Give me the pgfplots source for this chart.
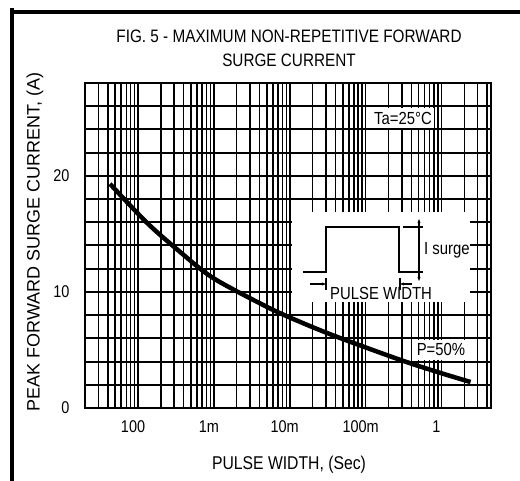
\documentclass[border=0pt]{standalone}
\usepackage{fontspec}
\setmainfont{Liberation Sans}[FakeStretch=0.85]
\newfontfamily\ylfont{Liberation Sans}
\usepackage{pgfplots}
\pgfplotsset{compat=1.18}
\usetikzlibrary{arrows.meta}

\begin{document}
\begin{tikzpicture}
\path[use as bounding box] (0pt,0pt) rectangle (520pt,481pt);

\begin{axis}[
  at={(85pt,73pt)}, anchor=south west,
  scale only axis, width=406pt, height=325pt,
  xmode=log, xmin=2e-5, xmax=4.5,
  ymin=0, ymax=28,
  xtick={1e-4,1e-3,1e-2,1e-1,1},
  xticklabels={100,1m,10m,100m,1},
  minor xtick={3e-5,4e-5,5e-5,6e-5,7e-5,8e-5,9e-5,
    2e-4,3e-4,4e-4,5e-4,6e-4,7e-4,8e-4,9e-4,
    2e-3,3e-3,4e-3,5e-3,6e-3,7e-3,8e-3,9e-3,
    2e-2,3e-2,4e-2,5e-2,6e-2,7e-2,8e-2,9e-2,
    0.2,0.3,0.4,0.5,0.6,0.7,0.8,0.9,2,3,4},
  ytick={0,10,20},
  minor ytick={2,4,6,8,12,14,16,18,22,24,26},
  grid=both,
  major grid style={line width=1.8pt, black},
  minor grid style={line width=1.5pt, black},
  every axis y grid/.append style={line width=2pt},
  major tick length=0pt, minor tick length=0pt,
  axis line style={line width=2.8pt},
  /pgf/number format/assume math mode=true,
  ticklabel style={font=\fontsize{17}{20}\selectfont},
  xticklabel style={yshift=-9pt, xshift=-5pt},
  yticklabel style={xshift=-12pt},
]
\addplot[black, line width=4.5pt, smooth] coordinates {
  (4.27e-5,19.31) (1.315e-4,15.95) (3.58e-4,13.45) (9.77e-4,11.2)
  (5.05e-3,8.7) (1.377e-2,7.41) (4.24e-2,6.12)
  (0.288,4.14) (0.97,3.02) (2.42,2.24)
};
\end{axis}

\begin{scope}[x=1pt, y=-1pt, shift={(0pt,481pt)}]
  % white areas over the grid
  \fill[white] (292,212) rectangle (470,302);
  \fill[white] (372,108) rectangle (434,128);
  \fill[white] (414,340) rectangle (477,360);
  % inset pulse sketch
  \draw[line width=1.5pt] (303,272) -- (326,272) -- (326,227) -- (399,227)
    -- (399,272) -- (423,272);
  \draw[line width=1.5pt] (403,227) -- (423,227);
  \draw[line width=1.4pt, {Stealth[length=4pt]}-{Stealth[length=4pt]}] (419,219) -- (419,281);
  \draw[line width=1.2pt] (326,278) -- (326,290);
  \draw[line width=1.2pt] (400,278) -- (400,290);
  \draw[line width=1.2pt, -{Stealth[length=4pt]}] (310,284) -- (326,284);
  \draw[line width=1.2pt, -{Stealth[length=4pt]}] (412,284) -- (400,284);
  \node[anchor=west, inner sep=0pt, font=\fontsize{17.5}{20}\selectfont] at (424,250) {I surge};
  \node[anchor=west, inner sep=0pt, font=\fontsize{17.5}{20}\selectfont] at (330,293) {PULSE WIDTH};
  \node[inner sep=0pt, font=\fontsize{17.5}{20}\selectfont] at (403,118) {Ta=25°C};
  \node[inner sep=0pt, font=\fontsize{17.5}{20}\selectfont] at (441,349) {P=50\%};
  % titles and labels
  \node[align=center, inner sep=0pt, font=\fontsize{18}{24}\selectfont] at (289,48)
    {FIG. 5 - MAXIMUM NON-REPETITIVE FORWARD\\SURGE CURRENT};
  \node[inner sep=0pt, font=\fontsize{18.5}{21}\selectfont] at (289,465) {PULSE WIDTH, (Sec)};
  \node[rotate=90, inner sep=0pt, font=\ylfont\fontsize{18}{21}\selectfont] at (35,242)
    {PEAK FORWARD SURGE CURRENT, (A)};
  % frame of the figure
  \draw[line width=3.5pt, black] (12,490) -- (12,8);
  \draw[line width=3.5pt, black] (10,12) -- (530,12);
\end{scope}
\end{tikzpicture}
\end{document}
